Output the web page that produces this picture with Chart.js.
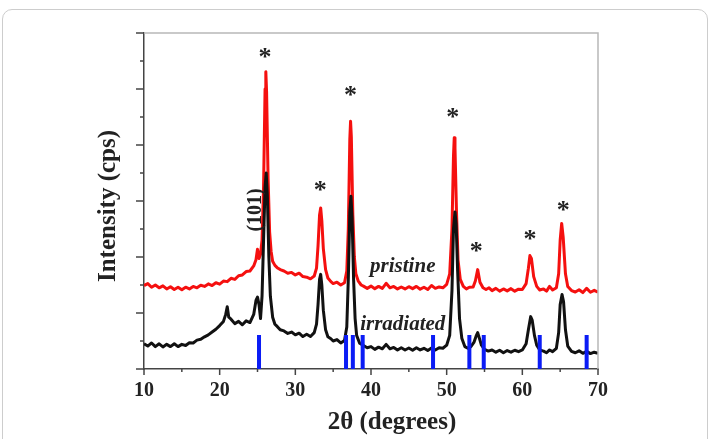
<!DOCTYPE html>
<html>
<head>
<meta charset="utf-8">
<script src="https://cdn.jsdelivr.net/npm/chart.js@4"></script>
<style>
  body { margin: 0; background: #fff; }
  #frame { position: absolute; left: 2px; top: 9px; width: 704px; height: 460px; border: 1px solid #cdcdcd; border-radius: 10px; }
  #xrd { position: absolute; left: 0; top: 0; }
</style>
</head>
<body>
<div id="frame"></div>
<canvas id="xrd" width="711" height="439"></canvas>
<script>
  // [2theta, intensity] (arbitrary units, curves offset)
  const pristine = [
    [10, 2.98], [10.5, 3.05], [11, 2.92], [11.5, 3.0], [12, 2.9], [12.5, 2.97], [13, 2.86], [13.5, 2.94],
    [14, 2.84], [14.5, 2.92], [15, 2.83], [15.5, 2.92], [16, 2.86], [16.5, 2.95], [17, 2.9], [17.5, 2.99],
    [18, 2.95], [18.5, 3.04], [19, 2.98], [19.5, 3.08], [20, 3.03], [20.5, 3.14], [21, 3.12], [21.5, 3.24],
    [22, 3.2], [22.5, 3.33], [23, 3.36], [23.5, 3.48], [24, 3.5], [24.5, 3.68], [24.8, 3.9], [25.0, 4.28],
    [25.2, 3.95], [25.4, 4.1], [25.6, 4.6], [25.8, 6.5], [26.0, 10.0], [26.1, 10.62], [26.2, 9.9], [26.4, 6.8],
    [26.6, 4.9], [26.8, 4.2], [27.0, 3.85], [27.3, 3.7], [27.6, 3.62], [28, 3.55], [28.5, 3.5], [29, 3.42],
    [29.5, 3.45], [30, 3.36], [30.5, 3.42], [31, 3.3], [31.5, 3.28], [32, 3.22], [32.5, 3.32], [32.8, 3.6],
    [33.0, 4.4], [33.2, 5.5], [33.35, 5.75], [33.5, 5.3], [33.7, 4.3], [34.0, 3.55], [34.3, 3.25], [34.7, 3.12],
    [35, 3.05], [35.5, 3.1], [36, 3.0], [36.5, 3.08], [36.8, 3.5], [37.0, 5.0], [37.2, 8.2], [37.3, 8.85],
    [37.4, 8.3], [37.6, 5.5], [37.8, 4.0], [38.0, 3.4], [38.3, 3.15], [38.7, 3.0], [39, 2.96], [39.5, 2.88],
    [40, 2.96], [40.5, 2.87], [41, 2.95], [41.5, 2.88], [42, 3.06], [42.5, 2.9], [43, 2.95], [43.5, 2.86],
    [44, 2.93], [44.5, 2.86], [45, 2.94], [45.5, 2.87], [46, 2.95], [46.5, 2.85], [47, 2.92], [47.5, 2.84],
    [48, 2.98], [48.5, 2.88], [49, 2.93], [49.5, 2.9], [50, 3.02], [50.4, 3.4], [50.7, 5.0], [50.9, 7.6],
    [51.0, 8.26], [51.1, 7.9], [51.3, 5.6], [51.5, 3.9], [51.8, 3.2], [52.2, 2.95], [52.6, 2.86], [53, 2.92],
    [53.5, 2.93], [53.8, 3.15], [54.1, 3.55], [54.4, 3.1], [54.8, 2.9], [55.2, 2.84], [55.6, 2.9], [56, 2.8],
    [56.5, 2.88], [57, 2.78], [57.5, 2.86], [58, 2.79], [58.5, 2.87], [59, 2.78], [59.5, 2.85], [60, 2.84],
    [60.5, 3.05], [60.8, 3.6], [61.0, 4.05], [61.2, 3.95], [61.5, 3.3], [61.9, 2.95], [62.3, 2.82], [62.8, 2.86],
    [63.2, 2.78], [63.6, 2.95], [64, 2.82], [64.5, 2.9], [64.8, 3.4], [65.0, 4.6], [65.2, 5.2], [65.4, 4.7],
    [65.7, 3.4], [66, 2.95], [66.5, 2.8], [67, 2.75], [67.5, 2.83], [68, 2.73], [68.5, 2.88], [69, 2.74],
    [69.5, 2.81], [70, 2.74]
  ];
  const irradiated = [
    [10, 0.9], [10.5, 0.82], [11, 0.93], [11.5, 0.8], [12, 0.9], [12.5, 0.79], [13, 0.88], [13.5, 0.8],
    [14, 0.9], [14.5, 0.8], [15, 0.88], [15.5, 0.84], [16, 0.94], [16.5, 0.93], [17, 1.03], [17.5, 1.06],
    [18, 1.15], [18.5, 1.22], [19, 1.32], [19.5, 1.42], [20, 1.55], [20.5, 1.7], [20.8, 1.95], [21.0, 2.22],
    [21.2, 1.85], [21.5, 1.78], [22, 1.62], [22.5, 1.7], [23, 1.58], [23.5, 1.72], [24, 1.66], [24.5, 1.95],
    [24.8, 2.45], [25.0, 2.57], [25.2, 2.3], [25.4, 1.8], [25.6, 2.6], [25.8, 4.6], [26.0, 6.5], [26.15, 7.0],
    [26.3, 6.2], [26.5, 4.0], [26.7, 2.6], [27.0, 1.85], [27.3, 1.6], [27.6, 1.52], [28, 1.4], [28.5, 1.36],
    [29, 1.27], [29.5, 1.32], [30, 1.22], [30.5, 1.28], [31, 1.16], [31.5, 1.24], [32, 1.16], [32.5, 1.3],
    [32.8, 1.6], [33.0, 2.3], [33.2, 3.2], [33.35, 3.38], [33.5, 3.0], [33.7, 2.1], [34.0, 1.4], [34.3, 1.15],
    [34.7, 1.08], [35, 1.0], [35.5, 1.05], [36, 0.93], [36.5, 1.02], [36.8, 1.5], [37.0, 3.2], [37.2, 5.6],
    [37.35, 6.17], [37.5, 5.4], [37.7, 3.2], [37.9, 1.8], [38.1, 1.2], [38.5, 0.92], [39, 0.84], [39.5, 0.76],
    [40, 0.8], [40.5, 0.7], [41, 0.78], [41.5, 0.72], [42, 0.88], [42.5, 0.72], [43, 0.77], [43.5, 0.68],
    [44, 0.76], [44.5, 0.68], [45, 0.75], [45.5, 0.67], [46, 0.76], [46.5, 0.68], [47, 0.74], [47.5, 0.66],
    [48, 0.75], [48.5, 0.68], [49, 0.76], [49.5, 0.74], [50, 0.85], [50.4, 1.2], [50.7, 2.8], [50.9, 5.0],
    [51.1, 5.61], [51.25, 5.2], [51.45, 3.5], [51.7, 1.8], [52, 1.1], [52.4, 0.8], [52.8, 0.74], [53.2, 0.8],
    [53.6, 0.95], [53.9, 1.18], [54.1, 1.3], [54.3, 1.12], [54.6, 0.85], [55, 0.7], [55.5, 0.64], [56, 0.68],
    [56.5, 0.6], [57, 0.67], [57.5, 0.58], [58, 0.66], [58.5, 0.6], [59, 0.67], [59.5, 0.62], [60, 0.68],
    [60.5, 0.9], [60.8, 1.4], [61.1, 1.87], [61.3, 1.75], [61.6, 1.2], [61.9, 0.85], [62.3, 0.68], [62.8, 0.64],
    [63.2, 0.58], [63.6, 0.68], [64, 0.62], [64.5, 0.74], [64.8, 1.3], [65.0, 2.3], [65.25, 2.66], [65.45, 2.4],
    [65.7, 1.4], [66, 0.82], [66.5, 0.63], [67, 0.58], [67.5, 0.65], [68, 0.56], [68.5, 0.63], [69, 0.55],
    [69.5, 0.6], [70, 0.56]
  ];
  // reference pattern positions (blue sticks) and their height
  const refLines = [25.2, 36.7, 37.6, 38.9, 48.2, 53.0, 54.9, 62.3, 68.5];
  const refHeight = 1.21;
  // asterisks above the peaks
  const stars = [[26.0, 11.28], [33.3, 6.54], [37.3, 9.93], [50.8, 9.13], [53.9, 4.36], [61.0, 4.8], [65.4, 5.83]];
  const xTicks = [10, 20, 30, 40, 50, 60, 70];

  const serif = '"Liberation Serif", "Times New Roman", serif';
  const ink = '#222';

  const refData = [];
  refLines.forEach(v => {
    refData.push({ x: v, y: 0 }, { x: v, y: refHeight }, { x: v, y: null });
  });

  const decor = {
    id: 'decor',
    afterDraw(chart) {
      const { ctx, chartArea: a, scales: { x, y } } = chart;
      ctx.save();
      // light frame on top and right
      ctx.strokeStyle = '#b8b8b8';
      ctx.lineWidth = 1.5;
      ctx.beginPath();
      ctx.moveTo(a.left, a.top);
      ctx.lineTo(a.right, a.top);
      ctx.lineTo(a.right, a.bottom);
      ctx.stroke();

      // tick marks, major ones longer
      ctx.strokeStyle = '#444';
      ctx.lineWidth = 1.5;
      x.ticks.forEach(t => {
        const px = x.getPixelForValue(t.value);
        const len = xTicks.includes(t.value) ? 6 : 3;
        ctx.beginPath();
        ctx.moveTo(px, a.bottom);
        ctx.lineTo(px, a.bottom + len);
        ctx.stroke();
      });
      y.ticks.forEach(t => {
        const py = y.getPixelForValue(t.value);
        const len = t.value % 2 === 0 ? 8 : 4;
        ctx.beginPath();
        ctx.moveTo(a.left, py);
        ctx.lineTo(a.left - len, py);
        ctx.stroke();
      });

      ctx.fillStyle = ink;
      ctx.textAlign = 'center';
      ctx.textBaseline = 'alphabetic';

      // asterisks
      ctx.font = 'bold 26px ' + serif;
      stars.forEach(([sx, sy]) => {
        ctx.fillText('*', x.getPixelForValue(sx), y.getPixelForValue(sy) + 12);
      });

      // curve labels
      ctx.font = 'italic bold 21px ' + serif;
      ctx.fillText('pristine', x.getPixelForValue(44.2), y.getPixelForValue(3.47));
      ctx.fillText('irradiated', x.getPixelForValue(44.2), y.getPixelForValue(1.39));

      // (101) rotated
      ctx.save();
      ctx.translate(x.getPixelForValue(24.5) + 7, y.getPixelForValue(5.68));
      ctx.rotate(-Math.PI / 2);
      ctx.font = 'bold 20px ' + serif;
      ctx.fillText('(101)', 0, 0);
      ctx.restore();

      // axis titles
      ctx.font = 'bold 25px ' + serif;
      ctx.fillText('2θ (degrees)', 392, 429);
      ctx.save();
      ctx.translate(115, 206);
      ctx.rotate(-Math.PI / 2);
      ctx.fillText('Intensity (cps)', 0, 0);
      ctx.restore();
      ctx.restore();
    }
  };

  new Chart(document.getElementById('xrd'), {
    type: 'line',
    data: {
      datasets: [
        {
          label: 'reference',
          data: refData,
          borderColor: '#0b1cf5',
          borderWidth: 4,
          spanGaps: false,
          order: 0
        },
        {
          label: 'irradiated',
          data: irradiated.map(([x, y]) => ({ x, y })),
          borderColor: '#111',
          borderWidth: 3,
          order: 1
        },
        {
          label: 'pristine',
          data: pristine.map(([x, y]) => ({ x, y })),
          borderColor: '#f5100f',
          borderWidth: 3,
          order: 2
        }
      ]
    },
    options: {
      responsive: false,
      animation: false,
      layout: { padding: { left: 0, top: 33, right: 113, bottom: 0 } },
      elements: {
        point: { radius: 0 },
        line: { tension: 0, borderCapStyle: 'butt', borderJoinStyle: 'round' }
      },
      plugins: {
        legend: { display: false },
        tooltip: { enabled: false }
      },
      scales: {
        x: {
          type: 'linear',
          min: 10,
          max: 70,
          ticks: {
            stepSize: 5,
            autoSkip: false,
            maxRotation: 0,
            padding: 10,
            color: ink,
            font: { family: serif, size: 20, weight: 'bold' },
            callback: (v) => xTicks.includes(v) ? v : ''
          },
          grid: { drawOnChartArea: false, drawTicks: false },
          border: { color: '#444', width: 1.5 },
          afterFit: (s) => { s.height = 70; }
        },
        y: {
          min: 0,
          max: 12,
          ticks: { stepSize: 1, display: false },
          grid: { drawOnChartArea: false, drawTicks: false },
          border: { color: '#444', width: 1.5 },
          afterFit: (s) => { s.width = 144; }
        }
      }
    },
    plugins: [decor]
  });
</script>
</body>
</html>
